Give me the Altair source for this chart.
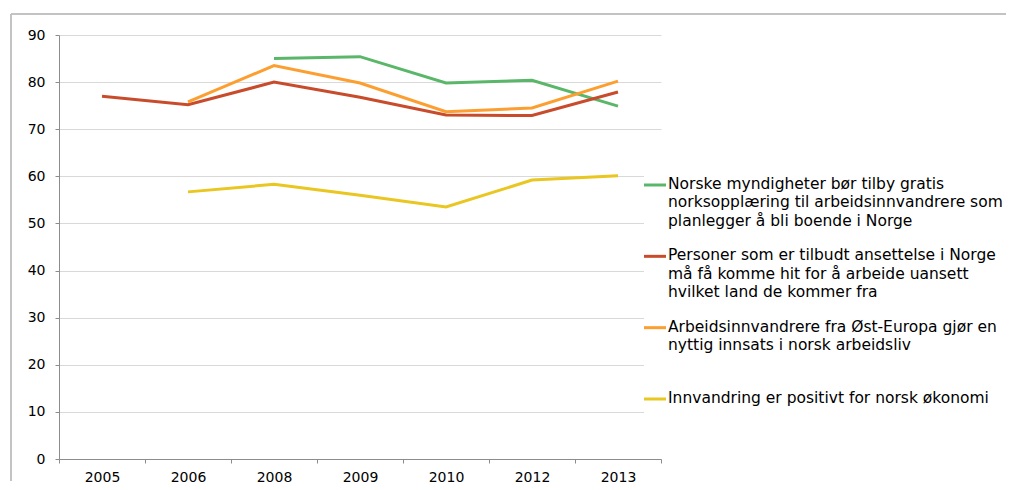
import altair as alt
import pandas as pd

years = ["2005", "2006", "2008", "2009", "2010", "2012", "2013"]

series_names = [
    "Norske myndigheter bør tilby gratis norksopplæring til arbeidsinnvandrere som planlegger å bli boende i Norge",
    "Personer som er tilbudt ansettelse i Norge må få komme hit for å arbeide uansett hvilket land de kommer fra",
    "Arbeidsinnvandrere fra Øst-Europa gjør en nyttig innsats i norsk arbeidsliv",
    "Innvandring er positivt for norsk økonomi",
]
legend_labels = [
    "Norske myndigheter bør tilby gratis\nnorksopplæring til arbeidsinnvandrere som\nplanlegger å bli boende i Norge",
    "Personer som er tilbudt ansettelse i Norge\nmå få komme hit for å arbeide uansett\nhvilket land de kommer fra",
    "Arbeidsinnvandrere fra Øst-Europa gjør en\nnyttig innsats i norsk arbeidsliv",
    "Innvandring er positivt for norsk økonomi",
]
colors = ["#5ab76a", "#c84c2c", "#fd9f30", "#e9c620"]

# None = no data for that year
green_vals = [None, None, 85.0, 85.4, 79.8, 80.4, 74.9]
red_vals = [77.0, 75.2, 80.0, 76.8, 73.0, 72.9, 77.9]
orange_vals = [None, 75.8, 83.5, 79.8, 73.7, 74.5, 80.2]
yellow_vals = [None, 56.7, 58.3, 56.0, 53.5, 59.2, 60.1]

all_vals = [green_vals, red_vals, orange_vals, yellow_vals]
rows = []
for name, vals in zip(series_names, all_vals):
    for yr, v in zip(years, vals):
        if v is not None:
            rows.append({"year": yr, "value": v, "series": name})
df = pd.DataFrame(rows)

legend_df = pd.DataFrame({
    "series": series_names,
    "label": legend_labels,
    "order": list(range(len(series_names))),
})

FONT = "DejaVu Sans"
color_scale = alt.Scale(domain=series_names, range=colors)

lines = alt.Chart(df).mark_line(strokeWidth=3).encode(
    x=alt.X("year:O", sort=years,
            scale=alt.Scale(domain=years, paddingInner=0, paddingOuter=0),
            axis=alt.Axis(title=None, labelAngle=0, tickBand="extent", grid=False,
                          domainColor="#8c8c8c", tickColor="#8c8c8c", tickSize=4,
                          labelFontSize=14, labelFont=FONT, labelColor="#000000",
                          labelPadding=7)),
    y=alt.Y("value:Q", scale=alt.Scale(domain=[0, 90], nice=False),
            axis=alt.Axis(title=None, values=list(range(0, 91, 10)),
                          grid=True, gridColor="#d9d9d9", domainColor="#8c8c8c",
                          tickColor="#8c8c8c", tickSize=4, labelFontSize=14,
                          labelFont=FONT, labelColor="#000000", labelPadding=10)),
    color=alt.Color("series:N", scale=color_scale, legend=None),
)

legend_box = alt.Chart(legend_df).mark_rect(color="white").encode(
    x=alt.value(585), x2=alt.value(947), y=alt.value(116), y2=alt.value(396)
)

leg_y = alt.Y("order:Q", scale=alt.Scale(domain=[0, 3], range=[150, 364]), axis=None)

legend_sym = alt.Chart(legend_df).mark_rule(strokeWidth=3).encode(
    x=alt.value(585), x2=alt.value(607), y=leg_y,
    color=alt.Color("series:N", scale=color_scale, legend=None),
)

legend_txt = alt.Chart(legend_df).mark_text(
    align="left", baseline="top", dy=-8, lineBreak="\n", lineHeight=18.3,
    fontSize=15.5, font=FONT, color="#000000"
).encode(
    x=alt.value(609), y=leg_y, text="label:N"
)

border_top = alt.Chart(legend_df).mark_rule(color="#bfbfbf", strokeWidth=1).encode(
    x=alt.value(-48), x2=alt.value(947), y=alt.value(-21)
)
border_left = alt.Chart(legend_df).mark_rule(color="#bfbfbf", strokeWidth=1).encode(
    x=alt.value(-48), y=alt.value(-21), y2=alt.value(446)
)

chart = alt.layer(
    lines, legend_box, legend_sym, legend_txt, border_top, border_left
).resolve_scale(y="independent").properties(
    width=602, height=424,
    padding={"left": 2, "top": 5, "right": 0, "bottom": 0},
    background="white",
).configure_view(stroke=None)

chart.save("out.html", embed_options={"renderer": "svg", "actions": False})
